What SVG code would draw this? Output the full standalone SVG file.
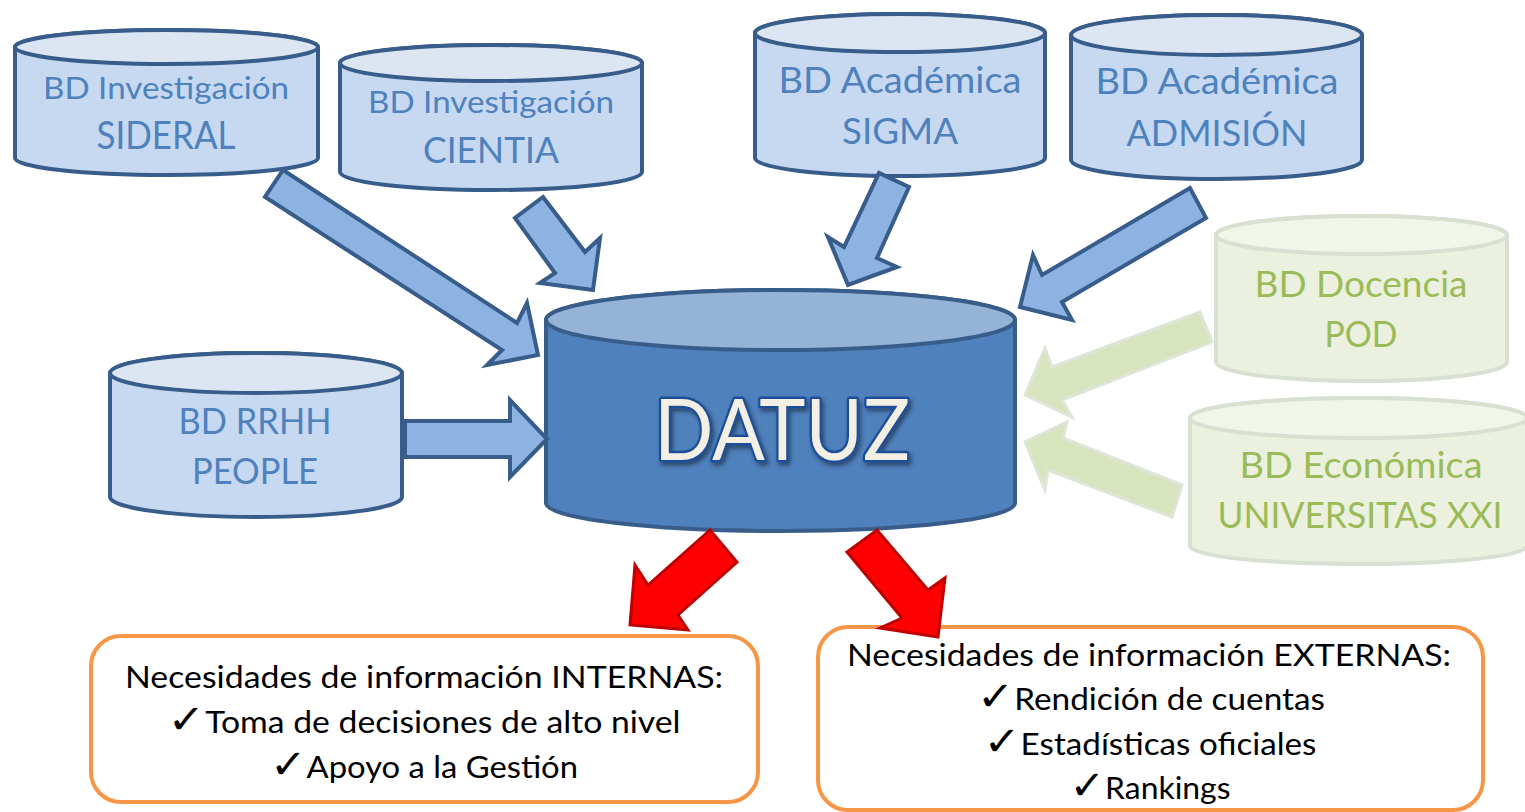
<svg xmlns="http://www.w3.org/2000/svg" width="1525" height="812" viewBox="0 0 1525 812">
<defs>
<style>
text{font-family:Lato,"Liberation Sans",sans-serif;text-anchor:middle}
.bs{fill:#C6D9F1;stroke:#385D8A;stroke-width:4}
.bt{fill:#DCE6F2;stroke:#385D8A;stroke-width:4}
.gs{fill:#EBF1DE;stroke:#D8E0D2;stroke-width:4}
.gt{fill:#F2F5EA;stroke:#D8E0D2;stroke-width:4}
.ds{fill:#4F81BD;stroke:#385D8A;stroke-width:4}
.dt{fill:#95B3D7;stroke:#385D8A;stroke-width:4}
.tb{fill:#4F81BD}
.tg{fill:#9BBB59}
.tk{fill:#000;font-size:30px}
.ck{font-family:"DejaVu Sans",sans-serif;font-size:40px}
.box{fill:#fff;stroke:#F79646;stroke-width:4}
.ab{fill:#8DB3E2;stroke:#385D8A;stroke-width:4;stroke-linejoin:miter}
.ag{fill:#D7E4BD;stroke:#DDE5D6;stroke-width:3;stroke-linejoin:miter}
.ar{fill:#FF0000;stroke:#C00000;stroke-width:3;stroke-linejoin:miter}
</style>
<filter id="sh" x="-10%" y="-10%" width="130%" height="140%">
<feDropShadow dx="2" dy="3" stdDeviation="2" flood-color="#000" flood-opacity="0.45"/>
</filter>
</defs>
<rect width="1525" height="812" fill="#fff"/>

<g id="sideral">
<path class="bs" d="M15,47 L15,158 A151.5,17 0 0 0 318,158 L318,47 A151.5,17 0 0 0 15,47 Z"/>
<ellipse class="bt" cx="166.5" cy="47" rx="151.5" ry="17"/>
<text class="tb" x="166" y="99" font-size="31" textLength="246" lengthAdjust="spacingAndGlyphs">BD Investigación</text>
<text class="tb" x="166" y="149" font-size="38" textLength="139" lengthAdjust="spacingAndGlyphs">SIDERAL</text>
</g>

<g id="cientia">
<path class="bs" d="M340,63 L340,172 A151,18 0 0 0 642,172 L642,63 A151,18 0 0 0 340,63 Z"/>
<ellipse class="bt" cx="491" cy="63" rx="151" ry="18"/>
<text class="tb" x="491" y="113" font-size="31" textLength="246" lengthAdjust="spacingAndGlyphs">BD Investigación</text>
<text class="tb" x="491" y="163" font-size="37" textLength="136" lengthAdjust="spacingAndGlyphs">CIENTIA</text>
</g>

<g id="sigma">
<path class="bs" d="M755,33 L755,158 A145,18 0 0 0 1045,158 L1045,33 A145,19 0 0 0 755,33 Z"/>
<ellipse class="bt" cx="900" cy="33" rx="145" ry="19"/>
<text class="tb" x="900" y="93" font-size="36" textLength="243" lengthAdjust="spacingAndGlyphs">BD Académica</text>
<text class="tb" x="900" y="144" font-size="36" textLength="116" lengthAdjust="spacingAndGlyphs">SIGMA</text>
</g>

<g id="admision">
<path class="bs" d="M1071,35 L1071,160 A145.5,19 0 0 0 1362,160 L1362,35 A145.5,20 0 0 0 1071,35 Z"/>
<ellipse class="bt" cx="1216.5" cy="35" rx="145.5" ry="20"/>
<text class="tb" x="1217" y="94" font-size="36" textLength="243" lengthAdjust="spacingAndGlyphs">BD Académica</text>
<text class="tb" x="1217" y="146" font-size="36" textLength="181" lengthAdjust="spacingAndGlyphs">ADMISIÓN</text>
</g>

<g id="rrhh">
<path class="bs" d="M110,373 L110,497 A146,20 0 0 0 402,497 L402,373 A146,20 0 0 0 110,373 Z"/>
<ellipse class="bt" cx="256" cy="373" rx="146" ry="20"/>
<text class="tb" x="255" y="434" font-size="36" textLength="153" lengthAdjust="spacingAndGlyphs">BD RRHH</text>
<text class="tb" x="255" y="484" font-size="36" textLength="126" lengthAdjust="spacingAndGlyphs">PEOPLE</text>
</g>

<g id="pod">
<path class="gs" d="M1216,235 L1216,362 A145.5,19 0 0 0 1507,362 L1507,235 A145.5,19 0 0 0 1216,235 Z"/>
<ellipse class="gt" cx="1361.5" cy="235" rx="145.5" ry="19"/>
<text class="tg" x="1361" y="297" font-size="36" textLength="213" lengthAdjust="spacingAndGlyphs">BD Docencia</text>
<text class="tg" x="1361" y="347" font-size="36" textLength="73" lengthAdjust="spacingAndGlyphs">POD</text>
</g>

<g id="economica">
<path class="gs" d="M1190,418 L1190,546 A168.5,18 0 0 0 1527,546 L1527,418 A168.5,20 0 0 0 1190,418 Z"/>
<ellipse class="gt" cx="1358.5" cy="418" rx="168.5" ry="20"/>
<text class="tg" x="1361" y="478" font-size="36" textLength="243" lengthAdjust="spacingAndGlyphs">BD Económica</text>
<text class="tg" x="1360" y="528" font-size="36" textLength="285" lengthAdjust="spacingAndGlyphs">UNIVERSITAS XXI</text>
</g>

<g id="datuz">
<path class="ds" d="M546,320 L546,503 A234.5,28 0 0 0 1015,503 L1015,320 A234.5,30 0 0 0 546,320 Z"/>
<ellipse class="dt" cx="780.5" cy="320" rx="234.5" ry="30"/>
<text x="782" y="460" font-size="86" textLength="256" lengthAdjust="spacingAndGlyphs" fill="#F3EFE2" stroke="#1F4E99" stroke-width="5" paint-order="stroke" stroke-linejoin="round" filter="url(#sh)">DATUZ</text>
</g>

<g id="internas">
<rect class="box" x="91" y="636" width="667" height="166" rx="30"/>
<text class="tk" x="424" y="688" textLength="598" lengthAdjust="spacingAndGlyphs">Necesidades de información INTERNAS:</text>
<text class="tk" x="424" y="733" textLength="513" lengthAdjust="spacingAndGlyphs"><tspan class="ck">✓</tspan>Toma de decisiones de alto nivel</text>
<text class="tk" x="424" y="778" textLength="308" lengthAdjust="spacingAndGlyphs"><tspan class="ck">✓</tspan>Apoyo a la Gestión</text>
</g>

<g id="externas">
<rect class="box" x="818" y="627" width="665" height="183" rx="30"/>
<text class="tk" x="1149" y="666" textLength="604" lengthAdjust="spacingAndGlyphs">Necesidades de información EXTERNAS:</text>
<text class="tk" x="1151" y="710" textLength="348" lengthAdjust="spacingAndGlyphs"><tspan class="ck">✓</tspan>Rendición de cuentas</text>
<text class="tk" x="1150" y="755" textLength="333" lengthAdjust="spacingAndGlyphs"><tspan class="ck">✓</tspan>Estadísticas oficiales</text>
<text class="tk" x="1150" y="799" textLength="161" lengthAdjust="spacingAndGlyphs"><tspan class="ck">✓</tspan>Rankings</text>
</g>

<g id="connectors">
<polygon class="ab" points="283,170 517,323 527,303 538,355 487,365 502,350 265,197"/>
<polygon class="ab" points="543,197 585,252 600,238 593,290 540,283 555,273 515,218"/>
<polygon class="ab" points="909,187 877,258 897,267 848,285 828,237 844,247 879,173"/>
<polygon class="ab" points="1190,188 1042,275 1033,255 1020,307 1072,320 1062,302 1206,218"/>
<polygon class="ab" points="405,421 510,421 510,400 547,439 510,477 510,457 405,457"/>
<polygon class="ag" points="1200,312 1052,367 1045,348 1025,395 1072,417 1062,400 1212,342"/>
<polygon class="ag" points="1182,485 1063,438 1067,422 1025,442 1045,490 1048,470 1172,517"/>
<polygon class="ar" points="710,530 648,585 635,565 630,625 688,630 678,615 737,562"/>
<polygon class="ar" points="847,552 902,618 880,628 938,637 945,578 928,590 877,530"/>
</g>
</svg>
